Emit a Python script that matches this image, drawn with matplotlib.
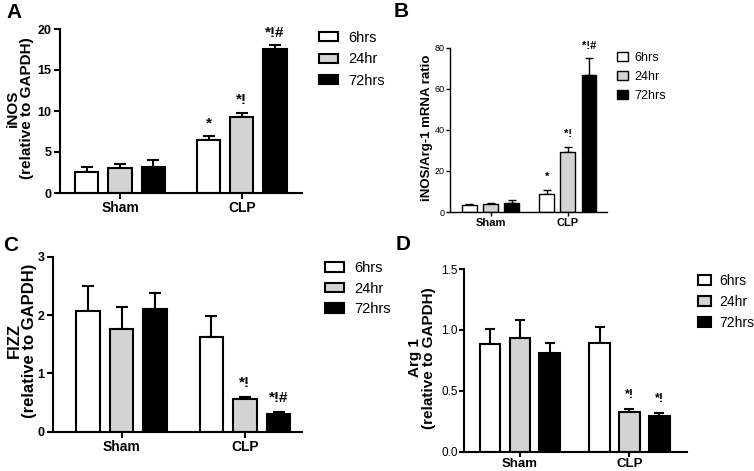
import matplotlib
matplotlib.use('Agg')
import matplotlib.pyplot as plt
from matplotlib.patches import Patch
import numpy as np

grupos = ['Sham', 'CLP']
tiempos = ['6hrs', '24hr', '72hrs']
colores = ['white', '#d3d3d3', 'black']

# valores [grupo][tiempo]
inos_media = [[2.55, 3.0, 3.15], [6.45, 9.25, 17.6]]
inos_error = [[0.6, 0.53, 0.88], [0.53, 0.53, 0.42]]
inos_marcas = [['', '', ''], ['*', '*!', '*!#']]

ratio_media = [[3.4, 3.7, 4.5], [8.6, 29.4, 66.7]]
ratio_error = [[0.5, 0.5, 1.3], [2.1, 2.4, 8.1]]
ratio_marcas = [['', '', ''], ['*', '*!', '*!#']]

fizz_media = [[2.07, 1.76, 2.10], [1.62, 0.56, 0.30]]
fizz_error = [[0.42, 0.38, 0.28], [0.37, 0.04, 0.04]]
fizz_marcas = [['', '', ''], ['', '*!', '*!#']]

arg_media = [[0.884, 0.93, 0.81], [0.895, 0.328, 0.293]]
arg_error = [[0.126, 0.15, 0.085], [0.13, 0.02, 0.027]]
arg_marcas = [['', '', ''], ['', '*!', '*!']]

NARROW = ['Liberation Sans Narrow', 'Liberation Sans', 'DejaVu Sans']
NORMAL = ['Liberation Sans', 'DejaVu Sans']

fig = plt.figure(figsize=(7.54, 4.71), dpi=100)
W, H = 754.0, 471.0


def rect(x0, x1, y0, y1):
    return [x0 / W, 1 - y1 / H, (x1 - x0) / W, (y1 - y0) / H]


def panel(ax, medias, errores, marcas, ylim, yticks, yticklabels, xlim,
          lw=1.5, cap=4, tick_size=9, tick_bold=True, x_size=10,
          marca_size=11, marca_off=6, tick_len=4, tick_pad=2):
    paso = 0.273
    ancho = 0.19
    for g in range(len(grupos)):
        for t in range(len(tiempos)):
            x = g + (t - 1) * paso
            m = medias[g][t]
            e = errores[g][t]
            ax.bar(x, m, width=ancho, color=colores[t], edgecolor='black',
                   linewidth=lw, zorder=2)
            ax.errorbar(x, m, yerr=[[0], [e]], fmt='none', ecolor='black',
                        elinewidth=lw, capsize=cap, capthick=lw, zorder=1)
            if marcas[g][t]:
                ax.annotate(marcas[g][t], xy=(x, m + e), xytext=(0, marca_off),
                            textcoords='offset points', ha='center', va='baseline',
                            fontsize=marca_size, fontweight='bold', family=NARROW,
                            annotation_clip=False)
    ax.set_xlim(*xlim)
    ax.set_ylim(*ylim)
    ax.set_yticks(yticks)
    ax.set_yticklabels(yticklabels, fontsize=tick_size,
                       fontweight='bold' if tick_bold else 'normal', family=NARROW)
    ax.set_xticks(range(len(grupos)))
    ax.set_xticklabels(grupos, fontsize=x_size, fontweight='bold', family=NARROW)
    for s in ['top', 'right']:
        ax.spines[s].set_visible(False)
    for s in ['left', 'bottom']:
        ax.spines[s].set_linewidth(lw)
    ax.tick_params(axis='both', direction='out', width=lw, length=tick_len,
                   pad=tick_pad)
    ax.patch.set_alpha(0)


def leyenda(x, y, size, hl, hh, spacing, pad, lw=1.5):
    h = [Patch(facecolor=c, edgecolor='black', linewidth=lw) for c in colores]
    fig.legend(h, tiempos, loc='upper left', bbox_to_anchor=(x / W, 1 - y / H),
               frameon=False, borderpad=0, borderaxespad=0,
               handlelength=hl, handleheight=hh, labelspacing=spacing,
               handletextpad=pad, prop={'family': NARROW, 'size': size})


# A
axA = fig.add_axes(rect(60, 302, 29, 193))
panel(axA, inos_media, inos_error, inos_marcas, (0, 20), [0, 5, 10, 15, 20],
      ['0', '5', '10', '15', '20'], (-0.493, 1.495), cap=4.2, marca_size=11,
      marca_off=6)
fig.text(20 / W, 1 - 108 / H, 'iNOS\n(relative to GAPDH)', rotation=90,
         ha='center', va='center', fontsize=11, fontweight='bold', family=NORMAL,
         linespacing=1.0)
leyenda(319, 31, 10.5, 1.3, 0.6, 0.5, 0.7)

# B
axB = fig.add_axes(rect(450, 606.7, 47.7, 212))
panel(axB, ratio_media, ratio_error, ratio_marcas, (0, 80), [0, 20, 40, 60, 80],
      ['0', '20', '40', '60', '80'], (-0.524, 1.503), lw=1.0, cap=3,
      tick_size=6.5, tick_bold=False, x_size=8, marca_size=8, marca_off=7,
      tick_len=3, tick_pad=1)
fig.text(427 / W, 1 - 128 / H, 'iNOS/Arg-1 mRNA ratio', rotation=90,
         ha='center', va='center', fontsize=9.5, fontweight='bold', family=NORMAL)
leyenda(617, 52, 9, 0.85, 0.65, 0.55, 0.55, lw=1.0)

# C
axC = fig.add_axes(rect(53, 302, 256.7, 431.7))
panel(axC, fizz_media, fizz_error, fizz_marcas, (0, 3), [0, 1, 2, 3],
      ['0', '1', '2', '3'], (-0.555, 1.462), cap=4.2, marca_size=11,
      marca_off=7)
fig.text(22 / W, 1 - 341 / H, 'FIZZ\n(relative to GAPDH)', rotation=90,
         ha='center', va='center', fontsize=12, fontweight='bold', family=NORMAL,
         linespacing=1.0)
leyenda(325, 261, 10.5, 1.3, 0.65, 0.45, 0.7)

# D
axD = fig.add_axes(rect(464, 687, 269, 451.7))
panel(axD, arg_media, arg_error, arg_marcas, (0, 1.5), [0, 0.5, 1.0, 1.5],
      ['0.0', '0.5', '1.0', '1.5'], (-0.511, 1.525), cap=3.5,
      tick_size=8.5, tick_bold=False, x_size=9.5, marca_size=9, marca_off=8,
      tick_len=3.5, tick_pad=1)
fig.text(422 / W, 1 - 358 / H, 'Arg 1\n(relative to GAPDH)', rotation=90,
         ha='center', va='center', fontsize=11, fontweight='bold', family=NORMAL,
         linespacing=0.95)
leyenda(698, 274, 10, 0.95, 0.75, 0.5, 0.55)

# letras de los paneles
for letra, x, y in [('A', 6, 3), ('B', 394, 2), ('C', 3, 236), ('D', 396, 235)]:
    fig.text(x / W, 1 - y / H, letra, ha='left', va='top', fontsize=15,
             fontweight='bold', family=NORMAL)

fig.savefig('out.png', dpi=100)
